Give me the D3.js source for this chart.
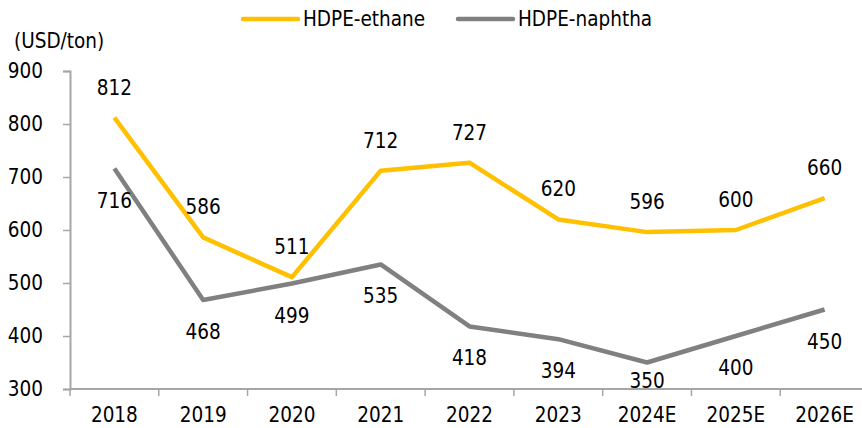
<!DOCTYPE html>
<html><head><meta charset="utf-8">
<script src="https://cdn.jsdelivr.net/npm/d3@7/dist/d3.min.js"></script>
<style>
html,body{margin:0;padding:0;background:#fff;}
text{font-family:"DejaVu Sans Condensed","DejaVu Sans",sans-serif;fill:#000;}
</style></head>
<body>
<svg id="chart" width="862" height="428"></svg>
<script>
const categories = ["2018","2019","2020","2021","2022","2023","2024E","2025E","2026E"];
const ethane = [812,586,511,712,727,620,596,600,660];
const naphtha = [716,468,499,535,418,394,350,400,450];
const seriesNames = ["HDPE-ethane","HDPE-naphtha"];
const yTicks = [300,400,500,600,700,800,900];
const unitLabel = "(USD/ton)";

(function(){
const svg = d3.select("#chart");
const mLeft = 70, mRight = 869, mTop = 71, mBottom = 389;
const FS = 20.5;

const x = d3.scaleBand().domain(categories).range([mLeft, mRight]).padding(0);
const y = d3.scaleLinear().domain([300, 900]).range([mBottom, mTop]);

const axisColor = "#a6a6a6";

const yAxis = svg.append("g").attr("transform", `translate(${mLeft},0)`)
  .call(d3.axisLeft(y).tickValues(yTicks).tickSize(7).tickPadding(20).tickFormat(d3.format("d")));
yAxis.select(".domain").attr("stroke", axisColor).attr("stroke-width", 2);
yAxis.selectAll(".tick line").attr("stroke", axisColor).attr("stroke-width", 1.5);
yAxis.selectAll(".tick text").attr("font-size", FS).attr("fill", "#000")
  .attr("font-family", '"DejaVu Sans Condensed","DejaVu Sans",sans-serif');

const xg = svg.append("g").attr("transform", `translate(0,${mBottom})`);
xg.append("line").attr("x1", mLeft).attr("x2", mRight).attr("y1", 0).attr("y2", 0)
  .attr("stroke", axisColor).attr("stroke-width", 2);
categories.forEach((c, i) => {
  const bx = x(c);
  if (i > 0) xg.append("line").attr("x1", bx).attr("x2", bx).attr("y1", 0).attr("y2", 7)
    .attr("stroke", axisColor).attr("stroke-width", 1.5);
  xg.append("text").attr("x", bx + x.bandwidth()/2).attr("y", 33)
    .attr("text-anchor", "middle").attr("font-size", FS).text(c);
});
xg.append("line").attr("x1", mLeft).attr("x2", mLeft).attr("y1", 0).attr("y2", 7)
  .attr("stroke", axisColor).attr("stroke-width", 1.5);

svg.append("text").attr("x", 14).attr("y", 48).attr("font-size", FS).text(unitLabel);

const cx = c => x(c) + x.bandwidth()/2;
const line = d3.line().x(d => cx(d.c)).y(d => y(d.v));
const colors = ["#FFC000", "#808080"];
const data = [ethane, naphtha].map(arr => arr.map((v, i) => ({c: categories[i], v})));

[1, 0].forEach(k => {
  svg.append("path").datum(data[k]).attr("d", line)
    .attr("fill", "none").attr("stroke", colors[k]).attr("stroke-width", 4.5)
    .attr("stroke-linejoin", "round").attr("stroke-linecap", "butt");
});

data[0].forEach(d => {
  svg.append("text").attr("x", cx(d.c)).attr("y", y(d.v) - 30)
    .attr("text-anchor", "middle").attr("dominant-baseline", "central")
    .attr("font-size", FS).text(d.v);
});
data[1].forEach(d => {
  const ly = Math.min(y(d.v) + 32, mBottom - 8);
  svg.append("text").attr("x", cx(d.c)).attr("y", ly)
    .attr("text-anchor", "middle").attr("dominant-baseline", "central")
    .attr("font-size", FS).text(d.v);
});

const legX = [243, 458];
seriesNames.forEach((n, k) => {
  svg.append("line").attr("x1", legX[k]).attr("x2", legX[k] + 55).attr("y1", 19).attr("y2", 19)
    .attr("stroke", colors[k]).attr("stroke-width", 4.5).attr("stroke-linecap", "round");
  svg.append("text").attr("x", legX[k] + 60).attr("y", 19).attr("dominant-baseline", "central")
    .attr("font-size", FS).text(n);
});
})();
</script>
</body></html>
